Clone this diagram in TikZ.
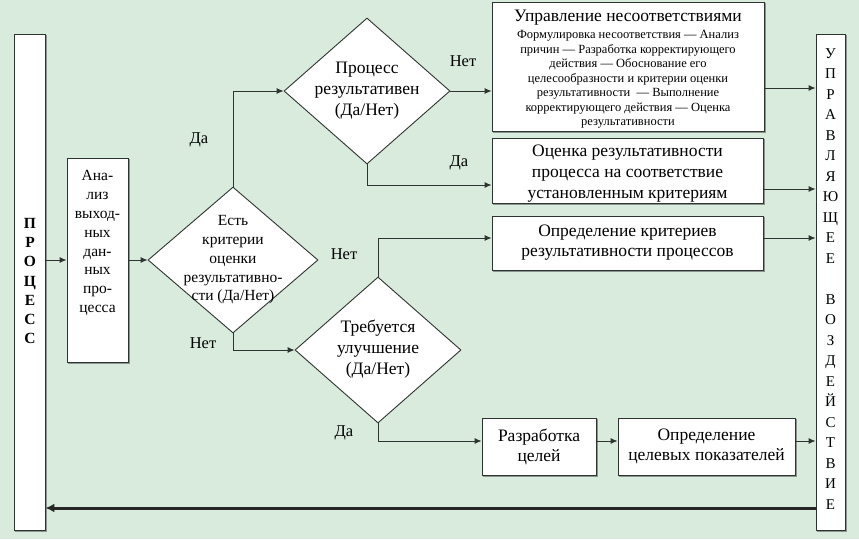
\documentclass[tikz,border=0pt]{standalone}
\usepackage{fontspec}
\setmainfont{Liberation Serif}
\usetikzlibrary{shapes.geometric,arrows.meta,shadows}
\definecolor{bg}{HTML}{D8EBDD}
\definecolor{ln}{HTML}{2E3430}
\definecolor{shd}{HTML}{8A9490}
\begin{document}
\begin{tikzpicture}[x=1pt,y=1pt,
  box/.style={draw=ln,fill=white,line width=0.9pt,rectangle,inner sep=0pt,align=center,
    copy shadow={shadow xshift=1.6pt,shadow yshift=-1.6pt,draw=shd,fill=shd,line width=0.6pt}},
  dia/.style={draw=ln,fill=white,line width=0.9pt,diamond,inner sep=0pt},
  txt/.style={align=center,inner sep=0pt,font=\fontsize{15}{19}\selectfont},
  lbl/.style={inner sep=0pt,font=\fontsize{16.5}{18}\selectfont},
  con/.style={draw=ln,line width=0.9pt,-{Latex[length=7pt,width=6pt]}},
  thick con/.style={draw=black!85,line width=3pt,-{Latex[length=9pt,width=9pt]}}]
\useasboundingbox[fill=bg] (0,0) rectangle (859,-539);

% side columns
\node[box,minimum width=31pt,minimum height=496pt] (proc) at (29.5,-282) {};
\node[txt,font=\fontsize{15.5}{19.3}\selectfont\bfseries] (proct) at (30,-281) {П\\Р\\О\\Ц\\Е\\С\\С};
\node[box,minimum width=29pt,minimum height=496pt] (upr) at (830.5,-282) {};
\node[txt,font=\fontsize{15}{20.5}\selectfont] (uprt) at (830.5,-279) {У\\П\\Р\\А\\В\\Л\\Я\\Ю\\Щ\\Е\\Е\\[20.5pt]В\\О\\З\\Д\\Е\\Й\\С\\Т\\В\\И\\Е};

% analysis box
\node[box,minimum width=61pt,minimum height=204pt] (anal) at (97.5,-260) {};
\node[txt,font=\fontsize{15.5}{18.9}\selectfont] (analt) at (97.5,-243) {Ана-\\лиз\\выход-\\ных\\дан-\\ных\\про-\\цесса};

% diamonds
\node[dia,minimum width=170pt,minimum height=146pt] (d1) at (233,-260) {};
\node[txt,font=\fontsize{15.5}{18.75}\selectfont] (d1t) at (233,-260) {Есть\\критерии\\оценки\\результативно-\\сти (Да/Нет)};
\node[dia,minimum width=166pt,minimum height=146pt] (d2) at (367,-91) {};
\node[txt,font=\fontsize{17.5}{21}\selectfont] (d2t) at (367,-91) {Процесс\\результативен\\(Да/Нет)};
\node[dia,minimum width=166pt,minimum height=146pt] (d3) at (378,-350) {};
\node[txt,font=\fontsize{17.5}{21}\selectfont] (d3t) at (378,-349) {Требуется\\улучшение\\(Да/Нет)};

% right boxes
\node[box,minimum width=272pt,minimum height=129pt] (b1) at (628,-66.5) {};
\node[txt,font=\fontsize{17.5}{18}\selectfont] (b1h) at (628,-18) {Управление несоответствиями};
\node[txt,font=\fontsize{12.5}{14.5}\selectfont] (b1t) at (628,-79.5) {Формулировка несоответствия — Анализ\\причин — Разработка корректирующего\\действия — Обоснование его\\целесообразности и критерии оценки\\результативности \ — Выполнение\\корректирующего действия — Оценка\\результативности};
\node[box,minimum width=271pt,minimum height=65pt] (b2) at (627.5,-170.5) {};
\node[txt,font=\fontsize{17.5}{21}\selectfont] (b2t) at (627.5,-173.5) {Оценка результативности\\процесса на соответствие\\установленным критериям};
\node[box,minimum width=271pt,minimum height=54pt,font=\fontsize{17.5}{20}\selectfont] (b3) at (627.5,-243) {Определение критериев\\результативности процессов};
\node[box,minimum width=114pt,minimum height=57pt,font=\fontsize{17.5}{20}\selectfont] (b4) at (539,-446.5) {Разработка\\целей};
\node[box,minimum width=177pt,minimum height=57pt,font=\fontsize{17.5}{20}\selectfont] (b5) at (706.5,-446.5) {Определение\\целевых показателей};

% labels
\node[lbl] (l1) at (199,-140) {Да};
\node[lbl] (l2) at (203,-343) {Нет};
\node[lbl] (l3) at (463,-61) {Нет};
\node[lbl] (l4) at (459,-163) {Да};
\node[lbl] (l5) at (344,-254) {Нет};
\node[lbl] (l6) at (344,-433) {Да};

% anchor points
\coordinate (b2in) at ([yshift=-14.5pt]b2.west);
\coordinate (b3in) at ([yshift=5pt]b3.west);
\coordinate (b4in) at ([yshift=5.5pt]b4.west);
\coordinate (b4out) at ([yshift=5.5pt]b4.east);
\coordinate (b5in) at ([yshift=5.5pt]b5.west);
\coordinate (b1out) at ([yshift=-21.5pt]b1.east);
\coordinate (b2out) at ([yshift=-18.5pt]b2.east);
\coordinate (b3out) at ([yshift=5pt]b3.east);
\coordinate (b5out) at ([yshift=5.5pt]b5.east);
\coordinate (fb) at (430,-508);

% connectors
\draw[con] (proc.east |- anal.west) -- (anal.west);
\draw[con] (anal.east) -- (d1.west);
\draw[con] (d1.north) |- (d2.west);
\draw[con] (d1.south) |- (d3.west);
\draw[con] (d2.east) -- (b1.west |- d2.east);
\draw[con] (d2.south) |- (b2in);
\draw[con] (d3.north) |- (b3in);
\draw[con] (d3.south) |- (b4in);
\draw[con] (b4out) -- (b5in);
\draw[con] (b1out) -- (upr.west |- b1out);
\draw[con] (b2out) -- (upr.west |- b2out);
\draw[con] (b3out) -- (upr.west |- b3out);
\draw[con] (b5out) -- (upr.west |- b5out);
\draw[thick con] (upr.west |- fb) -- (proc.east |- fb);
\end{tikzpicture}
\end{document}
